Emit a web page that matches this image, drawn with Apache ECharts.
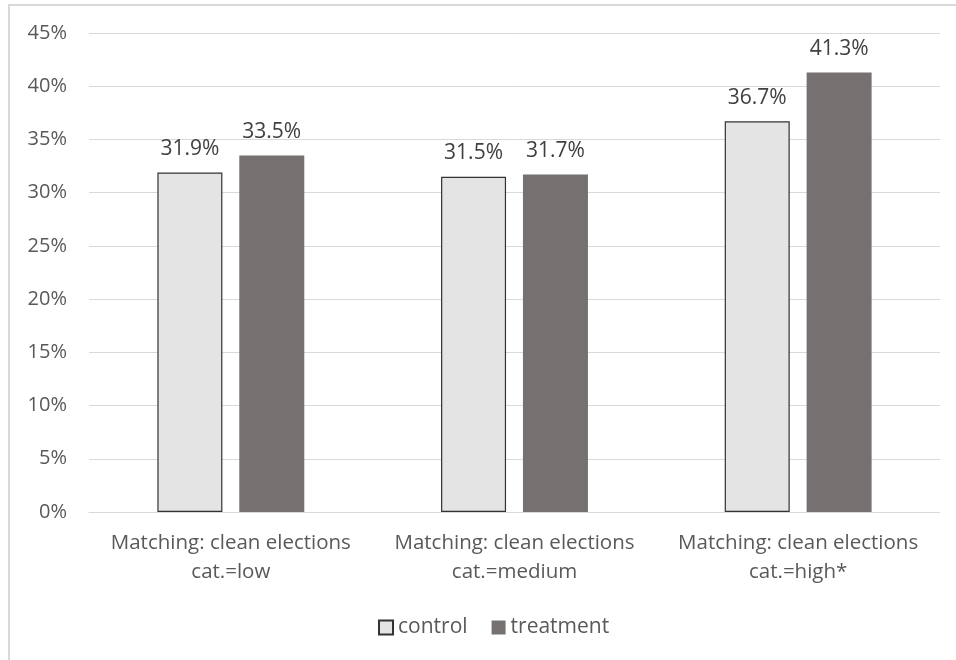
<!DOCTYPE html>
<html>
<head>
<meta charset="utf-8">
<script src="https://cdn.jsdelivr.net/npm/echarts@6/dist/echarts.min.js"></script>
<style>
  html, body { margin: 0; padding: 0; background: #fff; }
  #frame { position: absolute; left: 8px; top: 4px; width: 960px; height: 670px;
           border-left: 2px solid #d9d9d9; border-top: 2px solid #d9d9d9; }
  #chart { position: absolute; left: 0; top: 0; width: 956px; height: 660px; }
</style>
</head>
<body>
<div id="frame"></div>
<div id="chart"></div>
<script>
const categories = [
  'Matching: clean elections\ncat.=low',
  'Matching: clean elections\ncat.=medium',
  'Matching: clean elections\ncat.=high*'
];
const controlValues = [31.9, 31.5, 36.7];
const treatmentValues = [33.5, 31.7, 41.3];
const seriesNames = ['control', 'treatment'];

const font = '"Open Sans", "DejaVu Sans", sans-serif';
const textColor = '#595959';

const chart = echarts.init(document.getElementById('chart'));
chart.setOption({
  animation: false,
  textStyle: { fontFamily: font },
  grid: { left: 89, right: 16, top: 33, bottom: 148, containLabel: false },
  legend: {
    bottom: 17,
    left: 373,
    itemWidth: 14,
    itemHeight: 14,
    itemGap: 24,
    icon: 'rect',
    textStyle: { color: textColor, fontSize: 21, fontFamily: font },
    data: seriesNames
  },
  xAxis: {
    type: 'category',
    data: categories,
    axisLine: { show: true, lineStyle: { color: '#d9d9d9', width: 1 } },
    axisTick: { show: false },
    axisLabel: { color: textColor, fontSize: 20.5, lineHeight: 29, margin: 17, interval: 0 }
  },
  yAxis: {
    type: 'value',
    min: 0,
    max: 45,
    interval: 5,
    axisLine: { show: false },
    axisTick: { show: false },
    splitLine: { lineStyle: { color: '#d9d9d9', width: 1 } },
    axisLabel: { color: textColor, fontSize: 20, margin: 22, formatter: v => v + '%' }
  },
  series: [
    {
      name: seriesNames[0],
      type: 'bar',
      data: controlValues,
      barWidth: 65,
      barGap: '26%',
      itemStyle: { color: '#e4e4e4', borderColor: '#333333', borderWidth: 1.2 },
      label: { show: true, position: 'top', distance: 13, color: '#404040', fontSize: 21,
               formatter: p => p.value.toFixed(1) + '%' }
    },
    {
      name: seriesNames[1],
      type: 'bar',
      data: treatmentValues,
      barWidth: 65,
      itemStyle: { color: '#767171' },
      label: { show: true, position: 'top', distance: 13, color: '#404040', fontSize: 21,
               formatter: p => p.value.toFixed(1) + '%' }
    }
  ]
});
</script>
</body>
</html>
